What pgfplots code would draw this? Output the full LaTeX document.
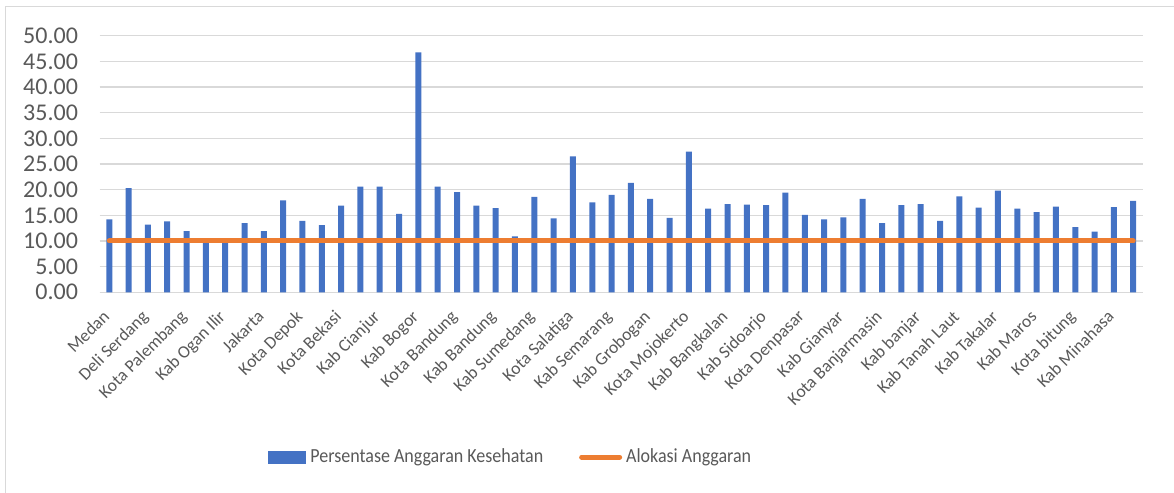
\documentclass[border=0pt]{standalone}
\usepackage{pgfplots}
\pgfplotsset{compat=1.18}
\usepackage{pgfplotstable}
\usepackage{fontspec}
\setmainfont{Carlito}
\newfontfamily\legfont[FakeStretch=0.9]{Carlito}
\definecolor{barblue}{HTML}{4472C4}
\definecolor{lineorange}{HTML}{ED7D31}
\definecolor{gridgray}{HTML}{D9D9D9}
\definecolor{txtgray}{HTML}{595959}
\pgfplotstableread{
x y
0 14.2
1 20.3
2 13.2
3 13.8
4 11.9
5 9.9
6 9.9
7 13.5
8 11.9
9 17.9
10 13.9
11 13.1
12 16.9
13 20.6
14 20.6
15 15.3
16 46.75
17 20.6
18 19.5
19 16.9
20 16.4
21 10.9
22 18.6
23 14.4
24 26.5
25 17.5
26 19.0
27 21.3
28 18.2
29 14.5
30 27.4
31 16.3
32 17.2
33 17.1
34 17.0
35 19.4
36 15.1
37 14.2
38 14.6
39 18.2
40 13.5
41 17.0
42 17.2
43 13.9
44 18.7
45 16.5
46 19.8
47 16.3
48 15.6
49 16.7
50 12.7
51 11.8
52 16.6
53 17.8
}\bardata
\pgfplotstableread{
x y
0 10
53 10
}\linedata
\begin{document}
\begin{tikzpicture}
\path[use as bounding box] (0,0) rectangle (587pt,246.5pt);
\draw[gridgray, line width=0.75pt] (2.75pt,0) -- (2.75pt,243.25pt) -- (587pt,243.25pt);
\begin{axis}[
  at={(49.8pt,100.35pt)}, anchor=south west,
  scale only axis, width=521.65pt, height=128.3pt,
  xmin=-0.5, xmax=53.5, ymin=0, ymax=50,
  axis x line*=bottom, axis y line*=left,
  x axis line style={gridgray, line width=0.65pt, -},
  y axis line style={draw=none},
  ytick={0,5,...,50},
  ymajorgrids, grid style={gridgray, line width=0.65pt},
  major tick length=0pt,
  xtick={0,2,...,52},
  xticklabels={Medan, Deli Serdang, Kota Palembang, Kab Ogan Ilir, Jakarta, Kota Depok, Kota Bekasi, Kab Cianjur, Kab Bogor, Kota Bandung, Kab Bandung, Kab Sumedang, Kota Salatiga, Kab Semarang, Kab Grobogan, Kota Mojokerto, Kab Bangkalan, Kab Sidoarjo, Kota Denpasar, Kab Gianyar, Kota Banjarmasin, Kab banjar, Kab Tanah Laut, Kab Takalar, Kab Maros, Kota bitung, Kab Minahasa},
  xticklabel style={xshift=-3.8pt, yshift=-6.8pt, rotate=45, anchor=north east, font=\fontsize{8.8}{9.5}\selectfont, text=txtgray, inner sep=1pt},
  yticklabel style={font=\fontsize{12}{13}\selectfont, text=txtgray, anchor=east, xshift=-7.3pt},
  /pgf/number format/.cd, fixed, fixed zerofill, precision=2, assume math mode=true,
  /pgfplots/.cd,
  clip=false,
  legend style={at={(0.1614,-0.642)}, anchor=west, draw=none, fill=none,
    font=\legfont\fontsize{10}{11}\selectfont, text=txtgray,
    legend columns=2, /tikz/every even column/.append style={column sep=16pt},
    inner sep=0pt, legend cell align=left},
]
\addplot[ybar, bar width=3pt, fill=barblue, draw=none,
  legend image code/.code={\fill[barblue] (0pt,-3.25pt) rectangle (19pt,3.25pt);}]
  table[x=x,y=y] {\bardata};
\addlegendentry{Persentase Anggaran Kesehatan}
\addplot[lineorange, line width=2.5pt, line cap=round, mark=none, sharp plot,
  legend image code/.code={\draw[lineorange, line width=2.5pt, line cap=round] (1pt,0pt) -- (20pt,0pt);}]
  table[x=x,y=y] {\linedata};
\addlegendentry{Alokasi Anggaran}
\end{axis}
\end{tikzpicture}
\end{document}
